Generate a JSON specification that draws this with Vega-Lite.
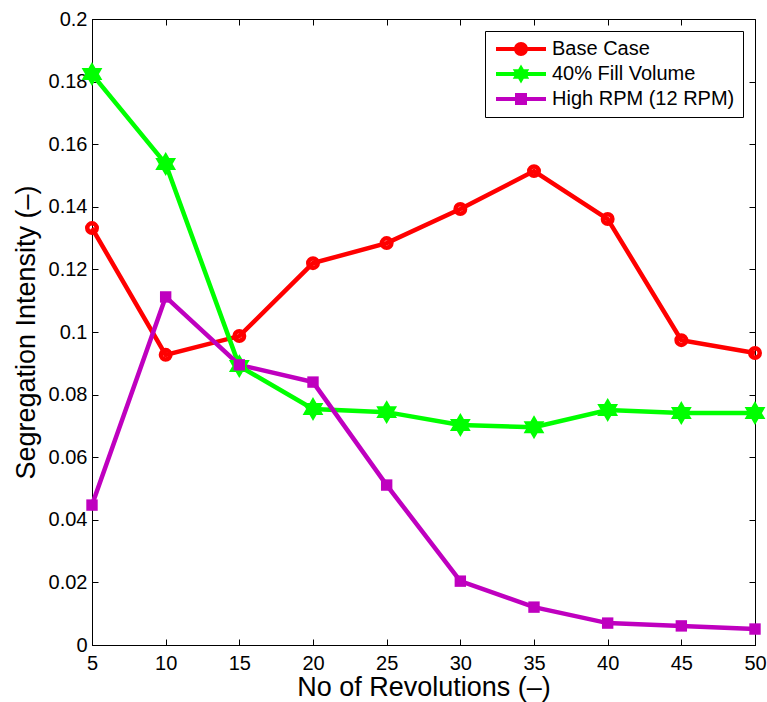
{
  "$schema": "https://vega.github.io/schema/vega-lite/v6.json",
  "width": 663,
  "height": 626,
  "autosize": {"type": "none"},
  "padding": {"left": 92, "top": 19, "right": 12, "bottom": 57},
  "background": "white",
  "config": {
    "font": "Liberation Sans",
    "view": {"stroke": "black", "strokeWidth": 1},
    "axis": {
      "grid": false,
      "domainColor": "black",
      "tickColor": "black",
      "labelColor": "black",
      "titleColor": "black",
      "labelFont": "Liberation Sans",
      "titleFont": "Liberation Sans",
      "labelFontSize": 20,
      "titleFontSize": 27,
      "titleFontWeight": "normal",
      "labelFlush": false,
      "labelOverlap": false,
      "tickSize": -6
    }
  },
  "data": {
    "values": [
      {"rev": 5, "si": 0.1332, "series": "Base Case"},
      {"rev": 10, "si": 0.0927, "series": "Base Case"},
      {"rev": 15, "si": 0.0987, "series": "Base Case"},
      {"rev": 20, "si": 0.1220, "series": "Base Case"},
      {"rev": 25, "si": 0.1284, "series": "Base Case"},
      {"rev": 30, "si": 0.1393, "series": "Base Case"},
      {"rev": 35, "si": 0.1514, "series": "Base Case"},
      {"rev": 40, "si": 0.1361, "series": "Base Case"},
      {"rev": 45, "si": 0.0974, "series": "Base Case"},
      {"rev": 50, "si": 0.0933, "series": "Base Case"},
      {"rev": 5, "si": 0.1824, "series": "40% Fill Volume"},
      {"rev": 10, "si": 0.1537, "series": "40% Fill Volume"},
      {"rev": 15, "si": 0.0891, "series": "40% Fill Volume"},
      {"rev": 20, "si": 0.0754, "series": "40% Fill Volume"},
      {"rev": 25, "si": 0.0744, "series": "40% Fill Volume"},
      {"rev": 30, "si": 0.0703, "series": "40% Fill Volume"},
      {"rev": 35, "si": 0.0696, "series": "40% Fill Volume"},
      {"rev": 40, "si": 0.0751, "series": "40% Fill Volume"},
      {"rev": 45, "si": 0.0741, "series": "40% Fill Volume"},
      {"rev": 50, "si": 0.0741, "series": "40% Fill Volume"},
      {"rev": 5, "si": 0.0447, "series": "High RPM (12 RPM)"},
      {"rev": 10, "si": 0.1112, "series": "High RPM (12 RPM)"},
      {"rev": 15, "si": 0.0895, "series": "High RPM (12 RPM)"},
      {"rev": 20, "si": 0.0840, "series": "High RPM (12 RPM)"},
      {"rev": 25, "si": 0.0511, "series": "High RPM (12 RPM)"},
      {"rev": 30, "si": 0.0204, "series": "High RPM (12 RPM)"},
      {"rev": 35, "si": 0.0121, "series": "High RPM (12 RPM)"},
      {"rev": 40, "si": 0.0070, "series": "High RPM (12 RPM)"},
      {"rev": 45, "si": 0.0061, "series": "High RPM (12 RPM)"},
      {"rev": 50, "si": 0.0051, "series": "High RPM (12 RPM)"}
    ]
  },
  "resolve": {"axis": {"x": "independent", "y": "independent"}},
  "layer": [
    {
      "mark": {"type": "point", "opacity": 0},
      "encoding": {
        "x": {"field": "rev", "type": "quantitative", "scale": {"domain": [5, 50], "nice": false, "zero": false},
          "axis": {"orient": "top", "labels": false, "title": null, "domain": false, "values": [5, 10, 15, 20, 25, 30, 35, 40, 45, 50]}},
        "y": {"field": "si", "type": "quantitative", "scale": {"domain": [0, 0.2], "nice": false},
          "axis": {"orient": "right", "labels": false, "title": null, "domain": false, "values": [0, 0.02, 0.04, 0.06, 0.08, 0.1, 0.12, 0.14, 0.16, 0.18, 0.2]}}
      }
    },
    {
      "mark": {"type": "line", "strokeWidth": 4.5},
      "encoding": {
        "x": {"field": "rev", "type": "quantitative",
          "axis": {"orient": "bottom", "title": "No of Revolutions (–)", "values": [5, 10, 15, 20, 25, 30, 35, 40, 45, 50], "labelPadding": 14, "titlePadding": 1}},
        "y": {"field": "si", "type": "quantitative",
          "axis": {"orient": "left", "title": "Segregation Intensity (–)", "values": [0, 0.02, 0.04, 0.06, 0.08, 0.1, 0.12, 0.14, 0.16, 0.18, 0.2], "format": "~g", "labelPadding": 11, "titlePadding": 8}},
        "color": {
          "field": "series", "type": "nominal",
          "scale": {"domain": ["Base Case", "40% Fill Volume", "High RPM (12 RPM)"], "range": ["#ff0000", "#00ff00", "#bf00bf"]},
          "legend": {
            "title": null,
            "orient": "top-right",
            "offset": 12,
            "padding": 8,
            "strokeColor": "black",
            "fillColor": "white",
            "labelFont": "Liberation Sans",
            "labelFontSize": 20,
            "labelColor": "black",
            "labelLimit": 400,
            "labelOffset": 21,
            "symbolOffset": 18,
            "symbolSize": 400,
            "rowPadding": 5,
            "encode": {
              "symbols": {
                "update": {
                  "shape": {"signal": "datum.value === 'Base Case' ? 'M-2.5,-0.2H2.5V0.2H-2.5Z M0.7,0A0.7,0.7 0 1,1 -0.7,0A0.7,0.7 0 1,1 0.7,0Z' : datum.value === '40% Fill Volume' ? 'M-2.5,-0.2H2.5V0.2H-2.5Z M0,-0.95L0.823,0.475L-0.823,0.475Z M0,0.95L-0.823,-0.475L0.823,-0.475Z' : 'M-2.5,-0.2H2.5V0.2H-2.5Z M-0.6,-0.6H0.6V0.6H-0.6Z'"},
                  "fill": {"signal": "scale('color', datum.value)"},
                  "fillOpacity": {"value": 1},
                  "opacity": {"value": 1},
                  "strokeWidth": {"value": 0}
                }
              }
            }
          }
        }
      }
    },
    {
      "transform": [{"filter": "datum.series === 'Base Case'"}],
      "mark": {"type": "point", "shape": "circle", "filled": false, "strokeWidth": 4.5, "size": 90, "opacity": 1},
      "encoding": {
        "x": {"field": "rev", "type": "quantitative", "axis": null},
        "y": {"field": "si", "type": "quantitative", "axis": null},
        "color": {"field": "series", "type": "nominal", "legend": null}
      }
    },
    {
      "transform": [{"filter": "datum.series === '40% Fill Volume'"}],
      "mark": {"type": "point", "shape": "M0,-1L0.866,0.5L-0.866,0.5Z M0,1L-0.866,-0.5L0.866,-0.5Z", "filled": true, "strokeWidth": 1.5, "size": 440, "opacity": 1},
      "encoding": {
        "x": {"field": "rev", "type": "quantitative", "axis": null},
        "y": {"field": "si", "type": "quantitative", "axis": null},
        "color": {"field": "series", "type": "nominal", "legend": null},
        "stroke": {"value": "#00ff00"}
      }
    },
    {
      "transform": [{"filter": "datum.series === 'High RPM (12 RPM)'"}],
      "mark": {"type": "point", "shape": "square", "filled": true, "size": 130, "opacity": 1},
      "encoding": {
        "x": {"field": "rev", "type": "quantitative", "axis": null},
        "y": {"field": "si", "type": "quantitative", "axis": null},
        "color": {"field": "series", "type": "nominal", "legend": null}
      }
    }
  ]
}
